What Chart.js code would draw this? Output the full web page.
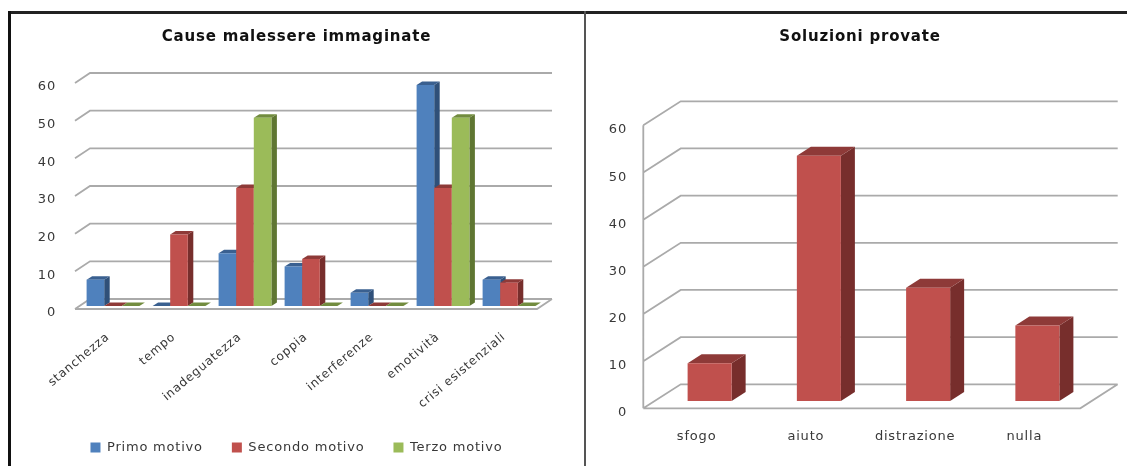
<!DOCTYPE html>
<html>
<head>
<meta charset="utf-8">
<title>Cause malessere e soluzioni</title>
<script src="https://cdn.jsdelivr.net/npm/chart.js@4"></script>
<style>
  html, body { margin: 0; padding: 0; background: #fff; }
  body { position: relative; width: 1127px; height: 466px; overflow: hidden; }
  .frame-top { position: absolute; left: 8px; top: 11px; width: 1119px; height: 3px; background: #222; }
  .frame-left { position: absolute; left: 8px; top: 11px; width: 3px; height: 455px; background: #111; }
  .divider { position: absolute; left: 584px; top: 11px; width: 2px; height: 455px; background: #555; }
  canvas { position: absolute; top: 0; }
  #cause { left: 10px; }
  #soluzioni { left: 593px; }
</style>
</head>
<body>
<canvas id="cause" width="573" height="466"></canvas>
<canvas id="soluzioni" width="534" height="466"></canvas>
<div class="frame-top"></div>
<div class="frame-left"></div>
<div class="divider"></div>
<script>
var causeLabels = ['stanchezza', 'tempo', 'inadeguatezza', 'coppia', 'interferenze', 'emotività', 'crisi esistenziali'];
var primoMotivo = [7, 0, 14, 10.5, 3.5, 58.7, 7];
var secondoMotivo = [0, 19, 31.3, 12.5, 0, 31.3, 6.2];
var terzoMotivo = [0, 0, 50, 0, 0, 50, 0];

var soluzioniLabels = ['sfogo', 'aiuto', 'distrazione', 'nulla'];
var soluzioniValues = [8, 52, 24, 16];

var textColor = '#383838';
var faces = {
  blue: { front: '#4f81bd', side: '#2f5079', top: '#3a6090' },
  red: { front: '#c0504d', side: '#772e2c', top: '#8e3a38' },
  green: { front: '#9bbb59', side: '#5f7632', top: '#728c3f' }
};

function poly(ctx, pts, fill) {
  ctx.beginPath();
  ctx.moveTo(pts[0][0], pts[0][1]);
  for (var i = 1; i < pts.length; i++) ctx.lineTo(pts[i][0], pts[i][1]);
  ctx.closePath();
  ctx.fillStyle = fill;
  ctx.fill();
}

// wide tracking on every text, set before the legend and axes get measured
var spacingPlugin = {
  id: 'spacing',
  beforeLayout: function(chart) { chart.ctx.letterSpacing = '0.8px'; }
};

// back wall, floor and the little diagonals running from the axis to the wall
var wallPlugin = {
  id: 'wall',
  beforeDatasetsDraw: function(chart, args, opts) {
    var ctx = chart.ctx, area = chart.chartArea, y = chart.scales.y;
    var fx = area.left + opts.front[0], fy = opts.front[1];
    var bx = area.left + opts.back[0], by = opts.back[1];
    var endFront = area.right + opts.front[0], endBack = area.right + opts.back[0];
    ctx.save();
    ctx.strokeStyle = '#aaaaaa';
    ctx.lineWidth = 1.8;
    ctx.beginPath();
    y.ticks.forEach(function(t) {
      var py = y.getPixelForValue(t.value);
      ctx.moveTo(fx, py + fy);
      ctx.lineTo(bx, py + by);
      ctx.lineTo(endBack, py + by);
    });
    var zero = y.getPixelForValue(0);
    ctx.moveTo(fx, zero + fy);
    ctx.lineTo(endFront, zero + fy);
    ctx.lineTo(endBack, zero + by);
    if (opts.axisLine) {
      ctx.moveTo(fx, y.getPixelForValue(y.max) + fy);
      ctx.lineTo(fx, zero + fy);
    }
    ctx.stroke();
    ctx.restore();
  }
};

// bars go left to right so each front covers the side face of its neighbour,
// the library's own back to front pass is switched off below
var depthPlugin = {
  id: 'depth',
  beforeDatasetsDraw: function(chart, args, opts) {
    var ctx = chart.ctx, dx = opts.dx, dy = opts.dy;
    chart.data.datasets.forEach(function(ds, i) {
      var meta = chart.getDatasetMeta(i);
      meta.data.forEach(function(bar) {
        var p = bar.getProps(['x', 'y', 'base', 'width'], true);
        var l = p.x - p.width / 2, r = p.x + p.width / 2;
        poly(ctx, [[r, p.y], [r + dx, p.y - dy], [r + dx, p.base - dy], [r, p.base]], ds.faces.side);
        poly(ctx, [[l, p.y], [l + dx, p.y - dy], [r + dx, p.y - dy], [r, p.y]], ds.faces.top);
      });
      meta.controller.draw();
    });
  },
  beforeDatasetDraw: function() { return false; }
};

function barSet(label, values, set) {
  return { label: label, data: values, backgroundColor: set.front, faces: set };
}

// empty axis on the right: leaves room for the depth while title and legend stay centred
function spacerAxis(width) {
  return {
    position: 'right',
    grid: { display: false },
    border: { display: false },
    ticks: { display: false },
    afterFit: function(scale) { scale.width = width; }
  };
}

var causeChart = new Chart(document.getElementById('cause'), {
  type: 'bar',
  data: {
    labels: causeLabels,
    datasets: [
      barSet('Primo motivo', primoMotivo, faces.blue),
      barSet('Secondo motivo', secondoMotivo, faces.red),
      barSet('Terzo motivo', terzoMotivo, faces.green)
    ]
  },
  options: {
    responsive: false,
    animation: false,
    categoryPercentage: 0.8,
    barPercentage: 1,
    layout: { padding: { bottom: 2 } },
    plugins: {
      wall: { front: [-5, 3], back: [10, -7] },
      depth: { dx: 5.5, dy: 3.5 },
      tooltip: { enabled: false },
      title: {
        display: true,
        text: 'Cause malessere immaginate',
        color: '#111',
        font: { family: 'DejaVu Sans', size: 15, weight: 'bold' },
        padding: { top: 28, bottom: 34 }
      },
      legend: {
        position: 'bottom',
        labels: {
          boxWidth: 10,
          boxHeight: 10,
          padding: 29,
          color: textColor,
          font: { family: 'DejaVu Sans', size: 13 }
        }
      }
    },
    scales: {
      x: {
        grid: { display: false },
        border: { display: false },
        afterFit: function(scale) { scale.height = 106; },
        ticks: { minRotation: 40, maxRotation: 40, padding: 16, labelOffset: -5, color: textColor, autoSkip: false, font: { family: 'DejaVu Sans', size: 12 } }
      },
      y: {
        min: 0,
        max: 60,
        grid: { display: false },
        border: { display: false },
        afterFit: function(scale) { scale.width = 70; },
        ticks: { stepSize: 10, padding: 16, labelOffset: 7, color: textColor, font: { family: 'DejaVu Sans', size: 13 } }
      },
      spacer: spacerAxis(41)
    }
  },
  plugins: [spacingPlugin, wallPlugin, depthPlugin]
});

var soluzioniChart = new Chart(document.getElementById('soluzioni'), {
  type: 'bar',
  data: {
    labels: soluzioniLabels,
    datasets: [barSet('Soluzioni provate', soluzioniValues, faces.red)]
  },
  options: {
    responsive: false,
    animation: false,
    categoryPercentage: 1,
    barPercentage: 0.403,
    plugins: {
      wall: { front: [-11.7, 7.3], back: [25.7, -16.7], axisLine: true },
      depth: { dx: 14, dy: 9 },
      tooltip: { enabled: false },
      legend: { display: false },
      title: {
        display: true,
        text: 'Soluzioni provate',
        color: '#111',
        font: { family: 'DejaVu Sans', size: 15, weight: 'bold' },
        padding: { top: 28, bottom: 72 }
      }
    },
    scales: {
      x: {
        grid: { display: false },
        border: { display: false },
        afterFit: function(scale) { scale.height = 65; },
        ticks: { maxRotation: 0, padding: 20, labelOffset: -13, color: textColor, font: { family: 'DejaVu Sans', size: 13 } }
      },
      y: {
        min: 0,
        max: 60,
        grid: { display: false },
        border: { display: false },
        afterFit: function(scale) { scale.width = 62; },
        ticks: { stepSize: 10, padding: 20, labelOffset: 12, color: textColor, font: { family: 'DejaVu Sans', size: 13 } }
      },
      spacer: spacerAxis(35)
    }
  },
  plugins: [spacingPlugin, wallPlugin, depthPlugin]
});
</script>
</body>
</html>
